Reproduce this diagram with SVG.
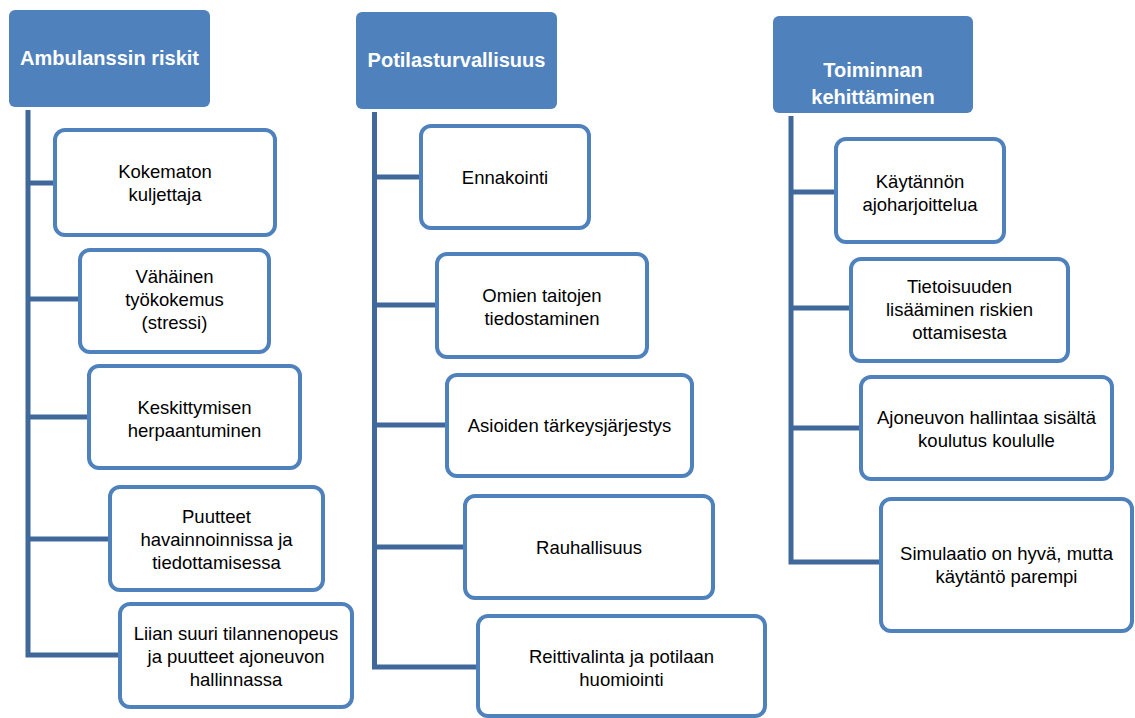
<svg xmlns="http://www.w3.org/2000/svg" width="1135" height="718" viewBox="0 0 1135 718">
<style>
.hdr{fill:#4f81bd;stroke:none}
.hdt{font-family:"Liberation Sans",Arial,sans-serif;font-weight:bold;font-size:20px;fill:#fff;text-anchor:middle;dominant-baseline:central}
.box{fill:#fff;stroke:#4f81bd;stroke-width:4}
.t{font-family:"Liberation Sans",Arial,sans-serif;font-size:18.5px;fill:#000;text-anchor:middle;dominant-baseline:central}
.ln{fill:none;stroke:#41689a;stroke-width:5;stroke-linejoin:miter}
</style>
<rect width="1135" height="718" fill="#fff"/>
<g id="connectors">
<path class="ln" d="M28 110 V655 H120 M28 183 H55 M28 299 H80 M28 417 H89 M28 539 H110"/>
<path class="ln" d="M374.5 112 V667 H478 M374.5 177 H421 M374.5 305 H437 M374.5 425 H447 M374.5 547 H465"/>
<path class="ln" d="M791 116 V562 H880 M791 192 H835 M791 308 H850 M791 428 H860"/>
</g>
<g id="h1"><rect class="hdr" x="9" y="10" width="201" height="97" rx="6"/><text class="hdt" x="109.5" y="58">Ambulanssin riskit</text></g>
<g id="h2"><rect class="hdr" x="356" y="12" width="201" height="97" rx="6"/><text class="hdt" x="456.5" y="60">Potilasturvallisuus</text></g>
<g id="h3"><rect class="hdr" x="773" y="16" width="200" height="97" rx="6"/><text class="hdt" x="873" y="70">Toiminnan</text><text class="hdt" x="873" y="97">kehittäminen</text></g>

<g id="c1a"><rect class="box" x="55" y="130" width="220" height="105" rx="10"/><text class="t" x="165" y="171">Kokematon</text><text class="t" x="165" y="194">kuljettaja</text></g>
<g id="c1b"><rect class="box" x="80" y="250" width="189" height="102" rx="10"/><text class="t" x="174.5" y="276">Vähäinen</text><text class="t" x="174.5" y="299">työkokemus</text><text class="t" x="174.5" y="322">(stressi)</text></g>
<g id="c1c"><rect class="box" x="89" y="366" width="211" height="102" rx="10"/><text class="t" x="194.5" y="407">Keskittymisen</text><text class="t" x="194.5" y="430">herpaantuminen</text></g>
<g id="c1d"><rect class="box" x="110" y="487" width="213" height="103" rx="10"/><text class="t" x="216.5" y="516">Puutteet</text><text class="t" x="216.5" y="539">havainnoinnissa ja</text><text class="t" x="216.5" y="562">tiedottamisessa</text></g>
<g id="c1e"><rect class="box" x="120" y="604" width="232" height="103" rx="10"/><text class="t" x="236" y="633">Liian suuri tilannenopeus</text><text class="t" x="236" y="656">ja puutteet ajoneuvon</text><text class="t" x="236" y="679">hallinnassa</text></g>

<g id="c2a"><rect class="box" x="421" y="126" width="168" height="102" rx="10"/><text class="t" x="505" y="177">Ennakointi</text></g>
<g id="c2b"><rect class="box" x="437" y="254" width="210" height="103" rx="10"/><text class="t" x="542" y="295">Omien taitojen</text><text class="t" x="542" y="318">tiedostaminen</text></g>
<g id="c2c"><rect class="box" x="447" y="375" width="245" height="101" rx="10"/><text class="t" x="569.5" y="425">Asioiden tärkeysjärjestys</text></g>
<g id="c2d"><rect class="box" x="465" y="496" width="248" height="102" rx="10"/><text class="t" x="589" y="547">Rauhallisuus</text></g>
<g id="c2e"><rect class="box" x="478" y="616" width="287" height="100" rx="10"/><text class="t" x="621.5" y="656">Reittivalinta ja potilaan</text><text class="t" x="621.5" y="679">huomiointi</text></g>

<g id="c3a"><rect class="box" x="836" y="139" width="168" height="103" rx="10"/><text class="t" x="920" y="181">Käytännön</text><text class="t" x="920" y="204">ajoharjoittelua</text></g>
<g id="c3b"><rect class="box" x="851" y="259" width="217" height="102" rx="10"/><text class="t" x="959.5" y="286">Tietoisuuden</text><text class="t" x="959.5" y="309">lisääminen riskien</text><text class="t" x="959.5" y="332">ottamisesta</text></g>
<g id="c3c"><rect class="box" x="861" y="377" width="251" height="102" rx="10"/><text class="t" x="986.5" y="417">Ajoneuvon hallintaa sisältä</text><text class="t" x="986.5" y="440">koulutus koululle</text></g>
<g id="c3d"><rect class="box" x="881" y="499" width="251" height="132" rx="10"/><text class="t" x="1006.5" y="553">Simulaatio on hyvä, mutta</text><text class="t" x="1006.5" y="576">käytäntö parempi</text></g>
</svg>
